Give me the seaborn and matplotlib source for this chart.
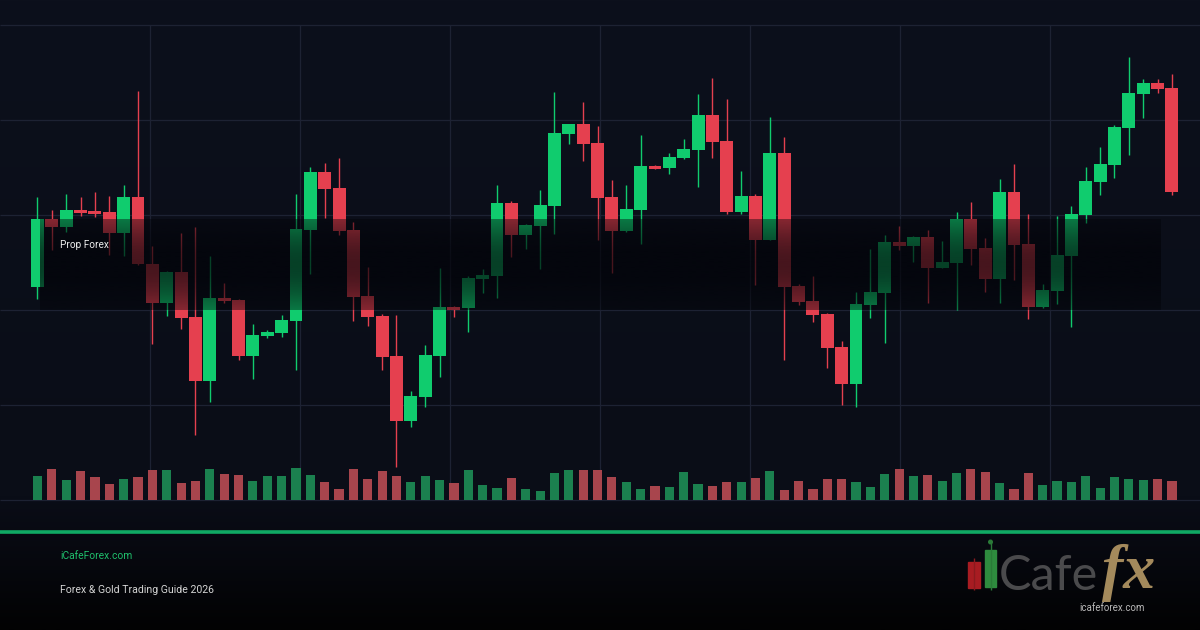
import numpy as np
import pandas as pd
import matplotlib
matplotlib.use("Agg")
import matplotlib.pyplot as plt
import seaborn as sns
from matplotlib.colors import LinearSegmentedColormap
from matplotlib.patches import Rectangle, Circle

# gold, one row per candle
opens = [2071.3, 2078.1, 2077.3, 2079.0, 2078.9, 2078.8, 2076.7, 2080.3, 2073.6, 2069.7,
         2072.8, 2068.3, 2061.9, 2070.2, 2070.0, 2064.4, 2066.4, 2066.7, 2067.9, 2077.0,
         2082.8, 2081.2, 2077.0, 2070.4, 2068.4, 2064.4, 2057.9, 2060.3, 2064.4, 2069.3,
         2069.2, 2072.1, 2072.4, 2079.7, 2076.5, 2077.4, 2079.4, 2086.6, 2087.6, 2085.7,
         2080.3, 2076.9, 2079.0, 2083.4, 2083.2, 2084.2, 2085.0, 2088.5, 2085.9, 2078.8,
         2080.4, 2076.0, 2084.7, 2071.4, 2069.9, 2068.6, 2065.3, 2061.6, 2069.5, 2070.7,
         2075.8, 2075.4, 2076.3, 2073.2, 2073.7, 2078.1, 2075.2, 2072.1, 2080.8, 2075.6,
         2069.3, 2070.9, 2074.4, 2078.5, 2081.8, 2083.5, 2087.2, 2090.6, 2091.7, 2091.2]
highs = [2080.3, 2079.0, 2080.6, 2080.3, 2080.8, 2080.4, 2081.5, 2090.9, 2075.4, 2072.9,
         2076.7, 2077.3, 2074.4, 2071.7, 2070.1, 2067.6, 2067.0, 2068.5, 2080.6, 2083.3,
         2083.7, 2084.2, 2077.8, 2073.3, 2068.6, 2068.5, 2060.9, 2065.5, 2073.2, 2069.4,
         2072.4, 2073.1, 2081.5, 2079.9, 2077.6, 2081.0, 2090.8, 2087.6, 2089.8, 2087.4,
         2082.0, 2081.5, 2086.5, 2083.5, 2084.7, 2086.1, 2090.6, 2092.2, 2090.1, 2082.9,
         2080.6, 2088.3, 2086.3, 2071.6, 2072.4, 2068.7, 2065.9, 2070.8, 2075.1, 2076.5,
         2077.4, 2076.4, 2077.0, 2075.9, 2078.8, 2079.8, 2076.2, 2082.1, 2083.6, 2078.6,
         2071.6, 2078.4, 2079.4, 2083.3, 2085.3, 2087.5, 2094.3, 2092.1, 2092.1, 2092.6]
lows = [2070.1, 2075.0, 2076.8, 2078.4, 2078.3, 2074.5, 2074.4, 2073.5, 2065.6, 2068.4,
        2067.1, 2056.5, 2059.8, 2069.7, 2064.0, 2062.1, 2066.2, 2066.3, 2063.0, 2072.6,
        2078.2, 2076.5, 2067.9, 2067.4, 2063.0, 2053.3, 2057.3, 2059.3, 2062.3, 2068.3,
        2066.8, 2070.7, 2070.2, 2074.3, 2075.1, 2073.1, 2076.6, 2085.6, 2083.9, 2076.0,
        2072.7, 2076.8, 2075.6, 2083.1, 2082.6, 2084.1, 2081.3, 2084.2, 2078.6, 2078.6,
        2071.5, 2076.0, 2064.0, 2069.5, 2067.8, 2063.2, 2059.5, 2059.3, 2068.2, 2065.7,
        2075.0, 2073.8, 2069.7, 2073.2, 2069.0, 2073.5, 2070.8, 2069.7, 2072.0, 2068.1,
        2069.2, 2069.6, 2067.3, 2077.7, 2080.5, 2082.2, 2084.5, 2088.2, 2090.7, 2080.5]
closes = [2078.1, 2077.3, 2079.0, 2078.7, 2078.6, 2076.7, 2080.3, 2073.6, 2069.7, 2072.8,
          2068.2, 2061.9, 2070.2, 2069.9, 2064.4, 2066.5, 2066.8, 2068.0, 2077.1, 2082.8,
          2081.1, 2076.9, 2070.3, 2068.3, 2064.3, 2057.9, 2060.4, 2064.5, 2069.3, 2069.0,
          2072.2, 2072.5, 2079.7, 2076.5, 2077.5, 2079.5, 2086.7, 2087.6, 2085.6, 2080.2,
          2076.9, 2079.1, 2083.4, 2083.1, 2084.3, 2085.1, 2088.5, 2085.8, 2078.8, 2080.4,
          2076.0, 2084.7, 2071.3, 2069.8, 2068.5, 2065.2, 2061.6, 2069.6, 2070.8, 2075.8,
          2075.4, 2076.3, 2073.2, 2073.8, 2078.1, 2075.1, 2072.1, 2080.8, 2075.5, 2069.3,
          2071.0, 2074.5, 2078.6, 2081.9, 2083.6, 2087.3, 2090.7, 2091.7, 2091.1, 2080.8]
# volume, thousand lots
volumes = [24, 31, 20, 29, 23, 16, 21, 23, 30, 30, 17, 19, 31, 26, 25, 19, 24, 24, 32, 25,
           18, 11, 31, 21, 29, 24, 18, 24, 20, 17, 30, 15, 12, 22, 11, 9, 27, 30, 30, 30,
           23, 18, 11, 14, 13, 28, 16, 14, 18, 18, 22, 29, 10, 19, 11, 21, 21, 18, 13, 26,
           31, 24, 25, 19, 27, 31, 28, 17, 11, 27, 15, 19, 18, 24, 12, 23, 21, 20, 21, 19]

band_label = "Prop Forex"
site = "iCafeForex.com"
subtitle = "Forex & Gold Trading Guide 2026"

GREEN = "#10cc6e"
RED = "#e5404f"
VGREEN = "#0a9150"
VRED = "#b9343f"
GRID = "#1d2233"

sns.set_theme(style="dark")
plt.rcParams["font.family"] = ["Roboto", "DejaVu Sans"]

W, H = 1200, 630
fig = plt.figure(figsize=(W / 100, H / 100), dpi=100)

# background gradient
bg = fig.add_axes([0, 0, 1, 1], zorder=-5)
bg_cmap = LinearSegmentedColormap.from_list(
    "bg", [(0, "#0c101c"), (0.79, "#0a0d17"), (0.85, "#080a12"), (1, "#020203")])
bg.imshow(np.linspace(0, 1, 256)[:, None], cmap=bg_cmap, aspect="auto", extent=(0, 1, 0, 1))
bg.axis("off")

df = pd.DataFrame({"o": opens, "h": highs, "l": lows, "c": closes, "vol": volumes})
df["idx"] = np.arange(len(df))
df["dir"] = np.where(df.c >= df.o, "up", "down")

# candle spacing in pixels, first candle centre
step, x0 = 14.36, 37.5
xlim = (-x0 / step, (W - x0) / step)

ax = fig.add_axes([0, 125 / H, 1, 485 / H], zorder=1)
ax.set_facecolor("none")
p_lo, p_hi = 2050.0, 2097.5

grid_y = np.arange(p_lo, p_hi + 0.1, 9.5)
grid_x = (np.arange(150, W, 150) - x0) / step
ax.hlines(grid_y, *xlim, colors=GRID, lw=0.9, zorder=0)
ax.vlines(grid_x, p_lo, p_hi, colors=GRID, lw=0.9, zorder=0)

cols = np.where(df.dir == "up", GREEN, RED)
ax.vlines(df.idx, df.l, df.h, colors=cols, lw=1.0, zorder=2)
body = np.maximum((df.c - df.o).abs(), 0.3)
ax.bar(df.idx, body, bottom=np.minimum(df.o, df.c), width=0.9, color=cols,
       linewidth=0, zorder=2.5)

# dark band over the range
t = np.linspace(0, 1, 200)
alpha = 0.42 + 0.28 * np.sin(np.pi * t)
band = np.zeros((200, 1, 4))
band[:, 0, :3] = np.array([2, 3, 8]) / 255
band[:, 0, 3] = alpha
ax.imshow(band, aspect="auto", extent=(0.18, 78.2, 2069.0, 2078.1), zorder=3,
          interpolation="bilinear")
ax.text(1.57, 2075.5, band_label, color="#eeeeee", fontsize=7.2, va="center", ha="left", zorder=4)
ax.set_xlim(*xlim)
ax.set_ylim(p_lo - 0.5, p_hi + 0.5)
ax.axis("off")

# volume pane
vax = fig.add_axes([0, 130 / H, 1, 475 / H], zorder=2)
vax.set_facecolor("none")
sns.barplot(data=df, x="idx", y="vol", hue="dir", palette={"up": VGREEN, "down": VRED},
            native_scale=True, dodge=False, width=0.64, errorbar=None, legend=False,
            linewidth=0, ax=vax)
vax.set_xlim(*xlim)
vax.set_ylim(0, df.vol.max() / 0.067)
vax.axis("off")

# footer
ov = fig.add_axes([0, 0, 1, 1], zorder=5)
ov.set_xlim(0, W)
ov.set_ylim(H, 0)
ov.axis("off")
ov.hlines(531.5, 0, W, colors="#10a964", lw=2.6)
ov.text(60, 556, site, color="#1fbf6c", fontsize=7.4, va="center", ha="left")
ov.text(60, 590, subtitle, color="#d4d4d4", fontsize=7.6, va="center", ha="left")

# logo
ov.vlines(974, 558, 590, colors="#8a1a1e", lw=1.0)
ov.add_patch(Rectangle((968, 562), 12, 26, color="#a81c22"))
ov.vlines(990.5, 542, 590, colors="#2a7a38", lw=1.0)
ov.add_patch(Circle((990.5, 542), 1.8, color="#2a7a38"))
ov.add_patch(Rectangle((985, 550), 11, 37, color="#2e8b3e"))
ov.text(999, 590, "Cafe", color="#4a4a4c", fontsize=35, fontweight="normal",
        family=["Lato", "DejaVu Sans"], va="baseline", ha="left")
ov.text(1102, 588, "fx", color="#a48a5c", fontsize=46, fontweight="bold", style="italic",
        family=["Liberation Serif", "DejaVu Serif"], va="baseline", ha="left")
ov.text(1112, 608, "icafeforex.com", color="#b8b8b8", fontsize=7, va="center", ha="center")

fig.savefig("out.png", dpi=100)
